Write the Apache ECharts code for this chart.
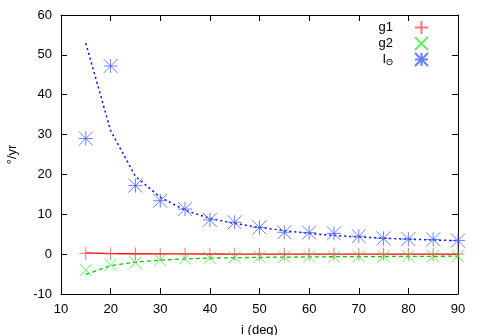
<!DOCTYPE html>
<html>
<head>
<meta charset="utf-8">
<script src="https://cdn.jsdelivr.net/npm/echarts@6/dist/echarts.min.js"></script>
<style>
  html, body { margin: 0; padding: 0; background: #fff; }
  #chart { width: 480px; height: 335px; }
</style>
</head>
<body>
<div id="chart"></div>
<script>
// inclination angles (deg)
var angles = [15, 20, 25, 30, 35, 40, 45, 50, 55, 60, 65, 70, 75, 80, 85, 90]

// measured points (deg/yr)
var g1Pts = [0.2, 0.1, 0.05, 0, 0, 0, 0, 0, 0, 0, 0, 0, 0, 0, 0, 0]
var g2Pts = [-4.0, -2.7, -2.1, -1.5, -1.1, -0.9, -0.8, -0.7, -0.65, -0.6, -0.6, -0.55, -0.55, -0.5, -0.5, -0.5]
var iThetaPts = [29.0, 47.2, 17.2, 13.4, 11.3, 8.6, 8.0, 6.7, 5.5, 5.4, 5.2, 4.5, 3.95, 3.8, 3.7, 3.4]

// model curves
var g1Fit = [0.3, 0.15, 0.1, 0.05, 0.05, 0.03, 0.02, 0.02, 0.01, 0.01, 0, 0, 0, 0, 0, 0]
var g2Fit = [-5.1, -2.9, -2.0, -1.5, -1.2, -1.0, -0.9, -0.8, -0.75, -0.7, -0.65, -0.6, -0.6, -0.55, -0.55, -0.5]
var iThetaFit = [52.9, 31.0, 19.5, 14.3, 11.0, 9.0, 7.7, 6.7, 5.9, 5.2, 4.7, 4.3, 4.0, 3.75, 3.55, 3.4]

var yTicks = [-10, 60, 10]
var xTicks = [10, 90, 10]

var PLUS = 'path://M0,5 L10,5 M5,0 L5,10'
var CROSS = 'path://M0,0 L10,10 M0,10 L10,0'
var STAR = 'path://M0,5 L10,5 M5,0 L5,10 M0,0 L10,10 M0,10 L10,0'

var FONT = 'Liberation Sans'

function pairs(vals) {
  return angles.map(function(a, i) { return [a, vals[i]] })
}

function axisCommon(show) {
  return {
    axisLine: { show: true, onZero: false, lineStyle: { color: '#000', width: 1 } },
    axisTick: { show: true, inside: true, length: 6, lineStyle: { color: '#000' } },
    axisLabel: { show: show, color: '#000', fontSize: 13, fontFamily: FONT, margin: 9 },
    splitLine: { show: false }
  }
}

var chart = echarts.init(document.getElementById('chart'), null, { renderer: 'canvas' })

chart.setOption({
  animation: false,
  backgroundColor: '#fff',
  grid: { left: 61, right: 22, top: 15, bottom: 41, containLabel: false, outerBoundsMode: 'none' },
  legend: {
    orient: 'vertical',
    right: 51,
    top: 20,
    padding: 0,
    itemGap: 1,
    itemWidth: 13,
    itemHeight: 13,
    align: 'right',
    data: [
      { name: 'g1', icon: PLUS },
      { name: 'g2', icon: CROSS },
      { name: 'Itheta', icon: STAR }
    ],
    formatter: function(name) {
      if (name === 'Itheta') return '{m|I}{s|\u0398}'
      return '{m|' + name + '}'
    },
    textStyle: {
      color: '#000',
      fontSize: 13,
      fontFamily: FONT,
      padding: [0, 17, 0, 0],
      rich: {
        m: { fontSize: 13, fontFamily: FONT, color: '#000' },
        s: { fontSize: 9, fontFamily: FONT, color: '#000', verticalAlign: 'bottom', padding: [6, 0, 0, 0] }
      }
    }
  },
  xAxis: [
    Object.assign({
      type: 'value', min: xTicks[0], max: xTicks[1], interval: xTicks[2],
      position: 'bottom',
      name: 'i (deg)', nameLocation: 'middle', nameGap: 30,
      nameTextStyle: { color: '#000', fontSize: 13, fontFamily: FONT }
    }, axisCommon(true)),
    Object.assign({
      type: 'value', min: xTicks[0], max: xTicks[1], interval: xTicks[2],
      position: 'top'
    }, axisCommon(false))
  ],
  yAxis: [
    Object.assign({
      type: 'value', min: yTicks[0], max: yTicks[1], interval: yTicks[2],
      position: 'left',
      name: '\u00b0/yr', nameLocation: 'middle', nameGap: 42,
      nameTextStyle: { color: '#000', fontSize: 13, fontFamily: FONT }
    }, axisCommon(true)),
    Object.assign({
      type: 'value', min: yTicks[0], max: yTicks[1], interval: yTicks[2],
      position: 'right'
    }, axisCommon(false))
  ],
  series: [
    {
      name: 'g1fit', type: 'line', data: pairs(g1Fit), showSymbol: false, silent: true,
      lineStyle: { color: '#ff0000', width: 1.3, type: 'solid' }, z: 2
    },
    {
      name: 'g2fit', type: 'line', data: pairs(g2Fit), showSymbol: false, silent: true,
      lineStyle: { color: '#00cc00', width: 1.3, type: [4, 3] }, z: 2
    },
    {
      name: 'Ifit', type: 'line', data: pairs(iThetaFit), showSymbol: false, silent: true,
      lineStyle: { color: '#0000ff', width: 1.5, type: [2, 3] }, z: 2
    },
    {
      name: 'g1', type: 'scatter', data: pairs(g1Pts), symbol: PLUS, symbolSize: 13,
      itemStyle: { color: 'rgba(0,0,0,0)', borderColor: '#ff5050', borderWidth: 1 }, z: 3
    },
    {
      name: 'g2', type: 'scatter', data: pairs(g2Pts), symbol: CROSS, symbolSize: 12,
      itemStyle: { color: 'rgba(0,0,0,0)', borderColor: '#33ee33', borderWidth: 1 }, z: 3
    },
    {
      name: 'Itheta', type: 'scatter', data: pairs(iThetaPts), symbol: STAR, symbolSize: 14,
      itemStyle: { color: 'rgba(0,0,0,0)', borderColor: '#4060ff', borderWidth: 1 }, z: 3
    }
  ]
})
</script>
</body>
</html>
